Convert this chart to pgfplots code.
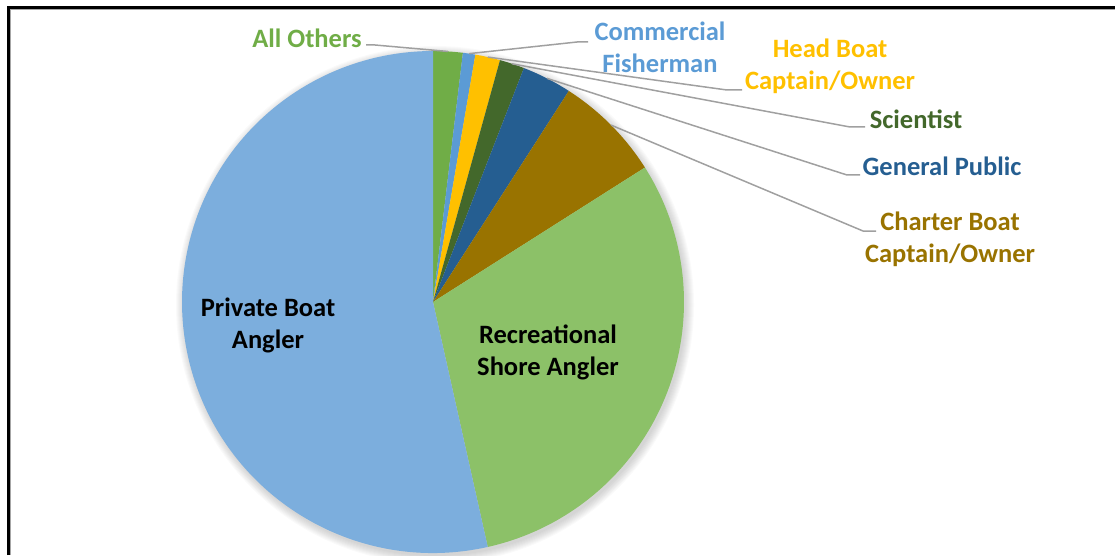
\documentclass[border=0pt]{standalone}
\usepackage{fontspec}
\setmainfont{Carlito}
\usepackage{pgfplots}
\usepackage{pgfplotstable}
\pgfplotsset{compat=1.18}

\definecolor{sc0}{HTML}{70AD47}
\definecolor{sc1}{HTML}{5B9BD5}
\definecolor{sc2}{HTML}{FFC000}
\definecolor{sc3}{HTML}{43682B}
\definecolor{sc4}{HTML}{255E91}
\definecolor{sc5}{HTML}{997300}
\definecolor{sc6}{HTML}{8CC168}
\definecolor{sc7}{HTML}{7CAEDD}
\definecolor{leader}{HTML}{A0A0A0}

% share of each group in percent, clockwise from 12 o'clock
\pgfplotstableread[col sep=comma]{
label,value
All Others,1.9
Commercial Fisherman,0.8
Head Boat Captain/Owner,1.6
Scientist,1.6
General Public,3.2
Charter Boat Captain/Owner,6.9
Recreational Shore Angler,30.5
Private Boat Angler,53.5
}\piedata

\def\cum{0}
\pgfplotsforeachungrouped \i in {0,...,7}{%
  \pgfplotstablegetelem{\i}{value}\of\piedata
  \pgfmathsetmacro\sa{90-3.6*\cum}%
  \pgfmathsetmacro\cum{\cum+\pgfplotsretval}%
  \pgfmathsetmacro\ea{90-3.6*\cum}%
  \pgfmathsetmacro\ma{(\sa+\ea)/2}%
  \expandafter\xdef\csname sa\i\endcsname{\sa}%
  \expandafter\xdef\csname ea\i\endcsname{\ea}%
  \expandafter\xdef\csname ma\i\endcsname{\ma}%
}

\begin{document}
\begin{tikzpicture}
\begin{axis}[
  scale only axis, width=1115pt, height=555pt,
  xmin=0, xmax=1115, ymin=0, ymax=555,
  enlargelimits=false,
  axis line style={draw=none},
  xtick=\empty, ytick=\empty,
  clip=false,
]
% soft shadow
\pgfplotsinvokeforeach{251,252,...,259}{
  \fill[black, opacity=0.018] (axis cs:435,250) circle[radius=#1pt];
}
% slices
\pgfplotsinvokeforeach{0,...,7}{
  \fill[sc#1] (axis cs:433,253) -- ++({\csname sa#1\endcsname}:251pt)
     arc[start angle={\csname sa#1\endcsname}, end angle={\csname ea#1\endcsname}, radius=251pt] -- cycle;
}
% leader lines
\tikzset{ld/.style={leader, line width=1.5pt}}
\draw[ld] (axis cs:433,253) ++({\csname ma0\endcsname}:251pt) -- (axis cs:375,510) -- (axis cs:366,510);
\draw[ld] (axis cs:433,253) ++({\csname ma1\endcsname}:251pt) -- (axis cs:577,513) -- (axis cs:588,513);
\draw[ld] (axis cs:433,253) ++({\csname ma2\endcsname}:251pt) -- (axis cs:727,465) -- (axis cs:742,465);
\draw[ld] (axis cs:433,253) ++({\csname ma3\endcsname}:251pt) -- (axis cs:850,428) -- (axis cs:865,428);
\draw[ld] (axis cs:433,253) ++({\csname ma4\endcsname}:251pt) -- (axis cs:847,380) -- (axis cs:860,380);
\draw[ld] (axis cs:433,253) ++({\csname ma5\endcsname}:251pt) -- (axis cs:863,324) -- (axis cs:876,324);
% labels
\tikzset{lab/.style={font=\bfseries\fontsize{26.5}{32}\selectfont, align=center, inner sep=0pt}}
\node[lab, text=sc0] at (axis cs:307,517) {All Others};
\node[lab, text=sc1] at (axis cs:660,508) {Commercial\\Fisherman};
\node[lab, text=sc2] at (axis cs:830,489) {Head Boat\\Captain/Owner};
\node[lab, text=sc3] at (axis cs:916,436) {Scientist};
\node[lab, text=sc4] at (axis cs:942,389) {General Public};
\node[lab, text=sc5] at (axis cs:950,316) {Charter Boat\\Captain/Owner};
\node[lab, text=black] at (axis cs:268,230) {Private Boat\\Angler};
\node[lab, text=black] at (axis cs:548,203) {Recreational\\Shore Angler};
% chart frame
\draw[black!35, line width=1pt] (axis cs:10.5,0) -- (axis cs:10.5,545.5) -- (axis cs:1115,545.5);
\draw[black, line width=2.2pt] (axis cs:8.5,0) -- (axis cs:8.5,547.5) -- (axis cs:1115,547.5);
\end{axis}
\pgfresetboundingbox
\path (current axis.south west) rectangle (current axis.north east);
\end{tikzpicture}
\end{document}
